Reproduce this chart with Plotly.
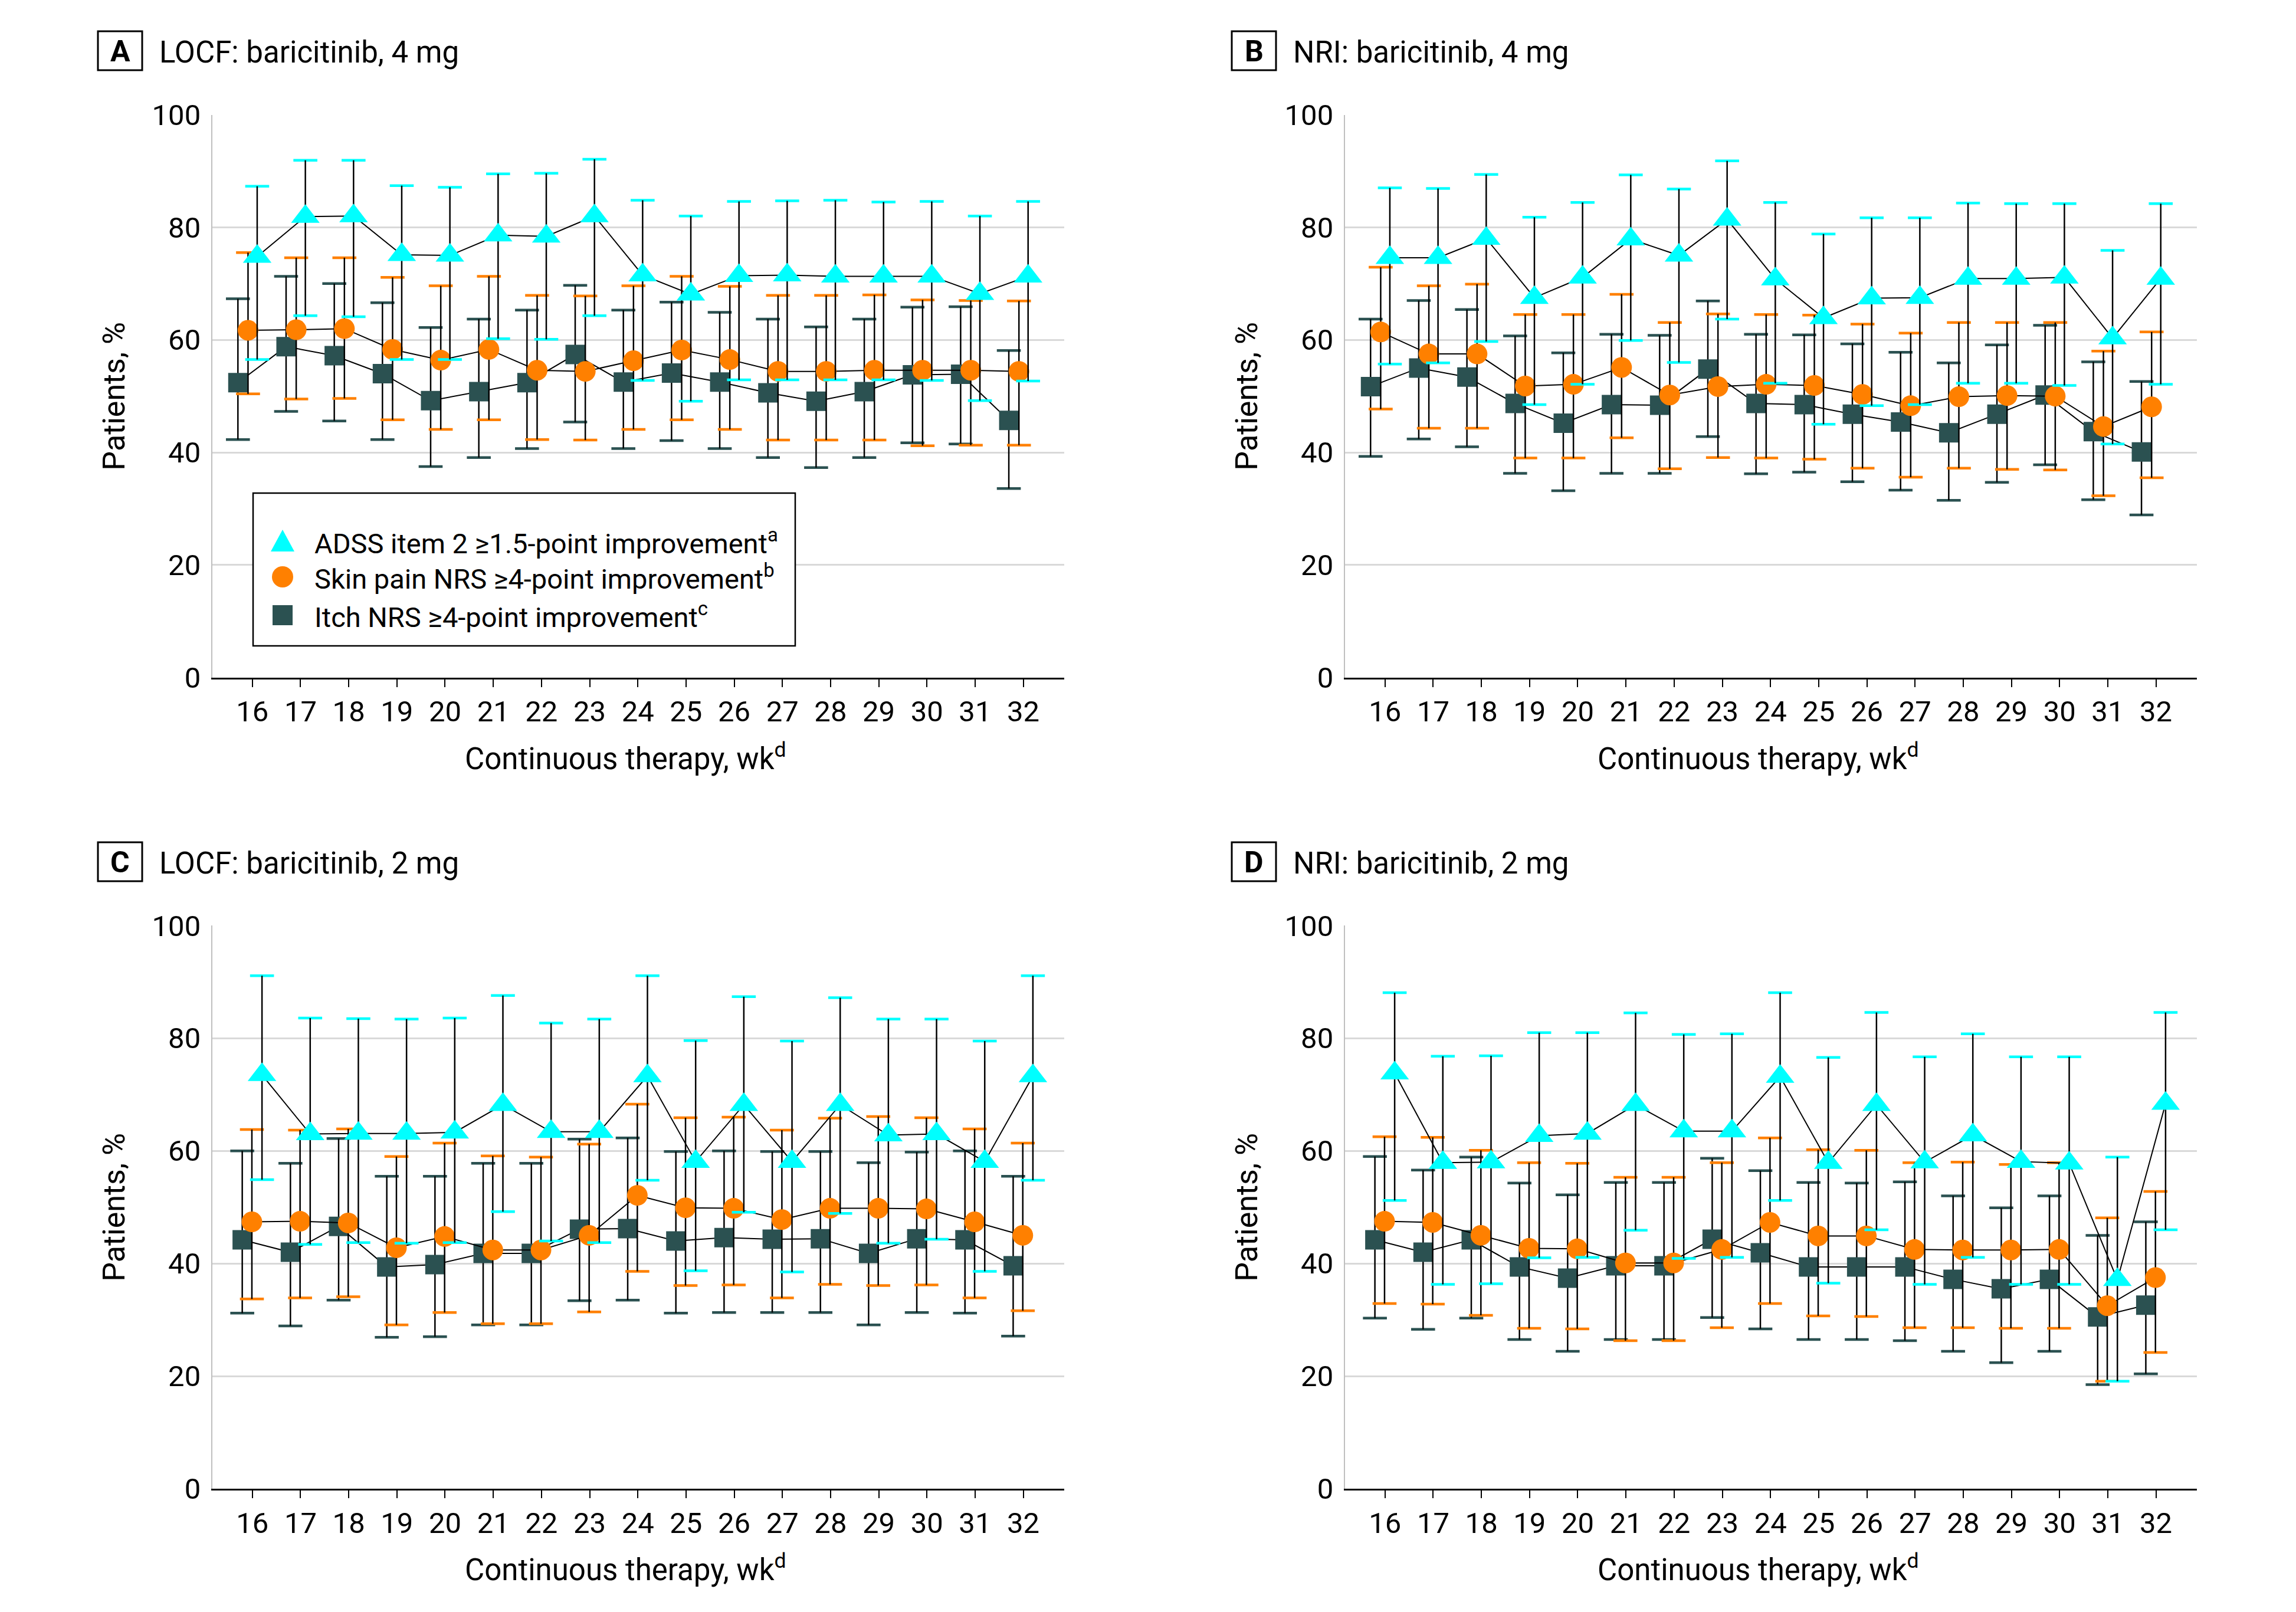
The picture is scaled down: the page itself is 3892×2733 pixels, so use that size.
import plotly.graph_objects as go

W, H = 3892, 2733
FONT = "Roboto, Liberation Sans, sans-serif"

# ---------------- data ----------------
weeks = list(range(16, 33))
x_tick_labels = [str(w) for w in weeks]
y_ticks = [0, 20, 40, 60, 80, 100]

panel_letters = ["A", "B", "C", "D"]
panel_titles = ["LOCF: baricitinib, 4 mg", "NRI: baricitinib, 4 mg",
                "LOCF: baricitinib, 2 mg", "NRI: baricitinib, 2 mg"]
series_labels = ["ADSS item 2 ≥1.5-point improvement<sup>a</sup>",
                 "Skin pain NRS ≥4-point improvement<sup>b</sup>",
                 "Itch NRS ≥4-point improvement<sup>c</sup>"]
x_title = "Continuous therapy, wk<sup>d</sup>"
y_title = "Patients, %"

# Panel A: LOCF, baricitinib 4 mg
A_adss = [74.8, 81.9, 82.0, 75.1, 75.0, 78.6, 78.4, 82.0, 71.5, 68.1, 71.4, 71.5, 71.3, 71.3, 71.3, 68.2, 71.3]
A_adss_lo = [56.5, 64.3, 64.1, 56.5, 56.5, 60.2, 60.1, 64.3, 52.8, 49.1, 52.9, 52.9, 52.9, 52.9, 52.8, 49.2, 52.7]
A_adss_hi = [87.3, 91.9, 91.9, 87.4, 87.1, 89.5, 89.6, 92.1, 84.8, 82.0, 84.6, 84.7, 84.8, 84.5, 84.6, 82.0, 84.6]
A_pain = [61.7, 61.8, 62.0, 58.3, 56.4, 58.3, 54.6, 54.4, 56.3, 58.2, 56.5, 54.4, 54.4, 54.6, 54.6, 54.6, 54.4]
A_pain_lo = [50.4, 49.5, 49.6, 45.8, 44.1, 45.8, 42.3, 42.2, 44.1, 45.8, 44.1, 42.2, 42.2, 42.2, 41.2, 41.3, 41.3]
A_pain_hi = [75.5, 74.6, 74.6, 71.1, 69.6, 71.3, 67.9, 67.8, 69.6, 71.3, 69.5, 67.9, 67.9, 68.0, 67.1, 67.0, 66.9]
A_itch = [52.4, 58.8, 57.2, 54.0, 49.2, 50.8, 52.4, 57.4, 52.5, 54.1, 52.5, 50.6, 49.1, 50.8, 53.8, 53.9, 45.7]
A_itch_lo = [42.3, 47.3, 45.6, 42.3, 37.5, 39.1, 40.7, 45.4, 40.7, 42.1, 40.7, 39.1, 37.3, 39.1, 41.7, 41.5, 33.6]
A_itch_hi = [67.3, 71.3, 70.0, 66.6, 62.2, 63.7, 65.3, 69.7, 65.3, 66.7, 64.9, 63.7, 62.3, 63.7, 65.8, 65.9, 58.1]

# Panel B: NRI, baricitinib 4 mg
B_adss = [74.6, 74.6, 78.0, 67.5, 71.1, 77.9, 75.0, 81.4, 70.8, 63.9, 67.4, 67.5, 70.9, 70.9, 71.1, 60.3, 70.9]
B_adss_lo = [55.7, 55.9, 59.7, 48.5, 52.1, 59.9, 56.0, 63.7, 52.3, 45.0, 48.3, 48.5, 52.3, 52.3, 51.9, 41.5, 52.1]
B_adss_hi = [87.0, 86.9, 89.4, 81.8, 84.4, 89.3, 86.8, 91.8, 84.4, 78.8, 81.7, 81.7, 84.3, 84.2, 84.2, 75.9, 84.2]
B_pain = [61.4, 57.5, 57.5, 51.8, 52.1, 55.1, 50.2, 51.7, 52.1, 51.9, 50.3, 48.3, 49.9, 50.1, 50.0, 44.6, 48.1]
B_pain_lo = [47.7, 44.3, 44.3, 39.0, 39.0, 42.6, 37.1, 39.1, 39.0, 38.8, 37.2, 35.6, 37.2, 37.0, 36.9, 32.3, 35.5]
B_pain_hi = [72.9, 69.6, 69.9, 64.5, 64.5, 68.1, 63.1, 64.6, 64.5, 64.4, 62.8, 61.2, 63.1, 63.1, 63.1, 58.0, 61.4]
B_itch = [51.7, 55.0, 53.4, 48.7, 45.2, 48.5, 48.4, 54.8, 48.7, 48.5, 46.8, 45.4, 43.5, 46.8, 50.2, 43.7, 40.1]
B_itch_lo = [39.3, 42.4, 41.0, 36.3, 33.2, 36.3, 36.3, 42.8, 36.2, 36.5, 34.8, 33.3, 31.5, 34.7, 37.8, 31.6, 28.9]
B_itch_hi = [63.7, 67.0, 65.4, 60.7, 57.7, 61.0, 60.8, 66.9, 61.0, 60.9, 59.3, 57.8, 55.9, 59.1, 62.6, 56.1, 52.6]

# Panel C: LOCF, baricitinib 2 mg
C_adss = [73.5, 63.0, 63.1, 63.1, 63.3, 68.2, 63.4, 63.4, 73.3, 58.1, 68.2, 58.1, 68.2, 62.8, 63.0, 58.1, 73.3]
C_adss_lo = [54.9, 43.4, 43.7, 43.6, 43.7, 49.2, 44.0, 43.7, 54.8, 38.7, 49.1, 38.5, 48.9, 43.6, 44.3, 38.6, 54.8]
C_adss_hi = [91.1, 83.6, 83.5, 83.4, 83.6, 87.6, 82.7, 83.4, 91.1, 79.6, 87.4, 79.5, 87.2, 83.4, 83.4, 79.5, 91.1]
C_pain = [47.4, 47.5, 47.2, 42.8, 44.8, 42.4, 42.4, 45.0, 52.1, 49.9, 49.8, 47.8, 49.8, 49.8, 49.7, 47.4, 45.0]
C_pain_lo = [33.7, 33.9, 34.1, 29.1, 31.3, 29.3, 29.3, 31.4, 38.6, 36.1, 36.2, 33.9, 36.3, 36.1, 36.2, 33.9, 31.6]
C_pain_hi = [63.8, 63.7, 63.9, 59.0, 61.4, 59.1, 58.9, 61.2, 68.3, 65.9, 66.0, 63.7, 65.8, 66.1, 65.9, 63.9, 61.4]
C_itch = [44.2, 42.0, 46.6, 39.4, 39.8, 41.8, 41.8, 46.1, 46.2, 44.0, 44.6, 44.3, 44.4, 41.8, 44.4, 44.2, 39.6]
C_itch_lo = [31.2, 28.9, 33.5, 26.9, 27.0, 29.1, 29.1, 33.4, 33.5, 31.2, 31.3, 31.3, 31.3, 29.1, 31.3, 31.2, 27.1]
C_itch_hi = [60.0, 57.8, 62.2, 55.5, 55.5, 57.8, 57.8, 62.1, 62.3, 59.9, 60.0, 59.9, 59.9, 57.9, 59.8, 60.0, 55.5]

# Panel D: NRI, baricitinib 2 mg
D_adss = [73.8, 57.9, 58.0, 62.7, 63.1, 68.2, 63.5, 63.5, 73.2, 57.9, 68.2, 58.0, 62.8, 58.1, 57.8, 37.1, 68.4]
D_adss_lo = [51.2, 36.3, 36.4, 41.0, 41.1, 45.9, 40.9, 41.1, 51.2, 36.5, 46.0, 36.3, 41.1, 36.3, 36.3, 19.1, 46.0]
D_adss_hi = [88.1, 76.8, 76.9, 81.0, 81.0, 84.5, 80.7, 80.8, 88.1, 76.6, 84.6, 76.7, 80.8, 76.7, 76.7, 58.9, 84.6]
D_pain = [47.5, 47.3, 45.0, 42.7, 42.6, 40.1, 40.1, 42.5, 47.3, 44.9, 44.9, 42.5, 42.4, 42.4, 42.5, 32.5, 37.5]
D_pain_lo = [32.9, 32.8, 30.8, 28.5, 28.4, 26.3, 26.3, 28.6, 32.9, 30.7, 30.6, 28.6, 28.6, 28.5, 28.5, 19.1, 24.2]
D_pain_hi = [62.5, 62.4, 60.1, 57.9, 57.8, 55.3, 55.3, 57.9, 62.3, 60.2, 60.1, 57.9, 58.0, 57.6, 57.9, 48.1, 52.8]
D_itch = [44.2, 42.0, 44.2, 39.4, 37.4, 39.6, 39.6, 44.3, 41.9, 39.4, 39.4, 39.4, 37.2, 35.5, 37.2, 30.5, 32.6]
D_itch_lo = [30.3, 28.3, 30.3, 26.5, 24.4, 26.5, 26.5, 30.4, 28.4, 26.5, 26.5, 26.3, 24.4, 22.4, 24.4, 18.5, 20.4]
D_itch_hi = [59.0, 56.6, 58.9, 54.3, 52.2, 54.4, 54.4, 58.7, 56.5, 54.4, 54.3, 54.5, 52.0, 49.9, 52.0, 45.0, 47.4]

panels = [
    {"itch": (A_itch, A_itch_lo, A_itch_hi), "pain": (A_pain, A_pain_lo, A_pain_hi), "adss": (A_adss, A_adss_lo, A_adss_hi)},
    {"itch": (B_itch, B_itch_lo, B_itch_hi), "pain": (B_pain, B_pain_lo, B_pain_hi), "adss": (B_adss, B_adss_lo, B_adss_hi)},
    {"itch": (C_itch, C_itch_lo, C_itch_hi), "pain": (C_pain, C_pain_lo, C_pain_hi), "adss": (C_adss, C_adss_lo, C_adss_hi)},
    {"itch": (D_itch, D_itch_lo, D_itch_hi), "pain": (D_pain, D_pain_lo, D_pain_hi), "adss": (D_adss, D_adss_lo, D_adss_hi)},
]

# ---------------- styling ----------------
COLORS = {"adss": "#00FFFF", "pain": "#FF8000", "itch": "#2B5151"}
SYMBOLS = {"adss": "triangle-up", "pain": "circle", "itch": "square"}
SIZES = {"adss": 42, "pain": 35, "itch": 33}
OFF_TOP = {"itch": -0.30, "pain": -0.09, "adss": 0.10}
OFF_BOT = {"itch": -0.21, "pain": -0.01, "adss": 0.20}

# plot areas in pixels (left, right, top, bottom)
AREAS = [(360, 1804, 194.5, 1148.8), (2280, 3724, 194.5, 1148.8),
         (360, 1804, 1569.4, 2524.0), (2280, 3724, 1569.4, 2524.0)]


def fx(p):
    return p / W


def fy(p):
    return 1 - p / H


fig = go.Figure()
layout_axes = {}
annotations = []
shapes = []

for i, p in enumerate(panels):
    sfx = "" if i == 0 else str(i + 1)
    xr, yr = "x" + sfx, "y" + sfx
    offs = OFF_TOP if i < 2 else OFF_BOT
    for key in ["itch", "pain", "adss"]:
        val, lo, hi = p[key]
        xs = [w + offs[key] for w in weeks]
        # coloured caps of the CI whiskers
        fig.add_trace(go.Scatter(
            x=xs + xs, y=lo + hi, mode="markers", xaxis=xr, yaxis=yr,
            marker=dict(symbol="line-ew", size=29, line=dict(color=COLORS[key], width=4.5)),
            showlegend=False, hoverinfo="skip"))
        # estimate, connecting line and black whisker stems
        fig.add_trace(go.Scatter(
            x=xs, y=val, mode="lines+markers", xaxis=xr, yaxis=yr,
            line=dict(color="black", width=2),
            marker=dict(symbol=SYMBOLS[key], size=SIZES[key], color=COLORS[key], line=dict(width=0)),
            error_y=dict(type="data", symmetric=False,
                         array=[h - v for h, v in zip(hi, val)],
                         arrayminus=[v - l for v, l in zip(val, lo)],
                         color="black", thickness=2.5, width=0),
            showlegend=False))

    l, r, t, b = AREAS[i]
    layout_axes["xaxis" + sfx] = dict(
        domain=[fx(l), fx(r)], range=[15.17, 32.85], anchor=yr, automargin=False,
        tickmode="array", tickvals=weeks, ticktext=x_tick_labels,
        ticks="outside", ticklen=13, tickwidth=2, tickcolor="black",
        showline=True, linecolor="black", linewidth=2.5,
        showgrid=False, zeroline=False,
        tickfont=dict(family=FONT, size=49, color="black"))
    layout_axes["yaxis" + sfx] = dict(
        domain=[fy(b), fy(t)], range=[0, 100], anchor=xr, automargin=False,
        tickmode="array", tickvals=y_ticks,
        showgrid=True, gridcolor="#D9D9D9", gridwidth=3,
        showline=True, linecolor="#BFBFBF", linewidth=2,
        ticks="", zeroline=False, ticklabelstandoff=8,
        tickfont=dict(family=FONT, size=49, color="black"))

    # panel letter box + title
    dx = 0 if i % 2 == 0 else 1922
    dy = 0 if i < 2 else 1375
    shapes.append(dict(type="rect", xref="paper", yref="paper",
                       x0=fx(166 + dx), x1=fx(241 + dx), y0=fy(119 + dy), y1=fy(53 + dy),
                       line=dict(color="black", width=3), fillcolor="white"))
    annotations.append(dict(text="<b>" + panel_letters[i] + "</b>", xref="paper", yref="paper",
                            x=fx(203.5 + dx), y=fy(87 + dy), xanchor="center", yanchor="middle",
                            showarrow=False, font=dict(family=FONT, size=50, color="black")))
    annotations.append(dict(text=panel_titles[i], xref="paper", yref="paper",
                            x=fx(268 + dx), y=fy(88 + dy), xanchor="left", yanchor="middle",
                            showarrow=False, font=dict(family=FONT, size=51, color="black")))
    # axis titles
    annotations.append(dict(text=y_title, xref="paper", yref="paper", textangle=-90,
                            x=fx(l - 166), y=fy((t + b) / 2), xanchor="center", yanchor="middle",
                            showarrow=False, font=dict(family=FONT, size=52, color="black")))
    annotations.append(dict(text=x_title, xref="paper", yref="paper",
                            x=fx(l + 700), y=fy(b + 134), xanchor="center", yanchor="middle",
                            showarrow=False, font=dict(family=FONT, size=51, color="black")))

# legend (panel A)
shapes.append(dict(type="rect", xref="paper", yref="paper", layer="above",
                   x0=fx(429), x1=fx(1348), y0=fy(1095), y1=fy(836),
                   line=dict(color="black", width=2.5), fillcolor="white"))
leg_rows = [918, 978, 1043]
leg_keys = ["adss", "pain", "itch"]
for row, key, lab in zip(leg_rows, leg_keys, series_labels):
    if key == "adss":
        shapes.append(dict(type="path", xref="paper", yref="paper", layer="above",
                           xsizemode="pixel", ysizemode="pixel",
                           xanchor=fx(479), yanchor=fy(row),
                           path="M -20,-17 L 20,-17 L 0,20 Z",
                           fillcolor=COLORS[key], line=dict(width=0)))
    elif key == "pain":
        shapes.append(dict(type="circle", xref="paper", yref="paper", layer="above",
                           xsizemode="pixel", ysizemode="pixel",
                           xanchor=fx(479), yanchor=fy(row),
                           x0=-18, x1=18, y0=-18, y1=18,
                           fillcolor=COLORS[key], line=dict(width=0)))
    else:
        shapes.append(dict(type="rect", xref="paper", yref="paper", layer="above",
                           xsizemode="pixel", ysizemode="pixel",
                           xanchor=fx(479), yanchor=fy(row),
                           x0=-17, x1=17, y0=-17, y1=17,
                           fillcolor=COLORS[key], line=dict(width=0)))
    annotations.append(dict(text=lab, xref="paper", yref="paper",
                            x=fx(531), y=fy(row), xanchor="left", yanchor="middle",
                            showarrow=False, font=dict(family=FONT, size=47, color="black")))

fig.update_layout(
    width=W, height=H,
    margin=dict(l=0, r=0, t=0, b=0, autoexpand=False),
    paper_bgcolor="white", plot_bgcolor="white",
    font=dict(family=FONT, color="black"),
    showlegend=False,
    annotations=annotations, shapes=shapes,
    **layout_axes)

fig.write_html("out.html", config={"displayModeBar": False},
               post_script="document.body.style.margin='0px';document.body.style.padding='0px';")
